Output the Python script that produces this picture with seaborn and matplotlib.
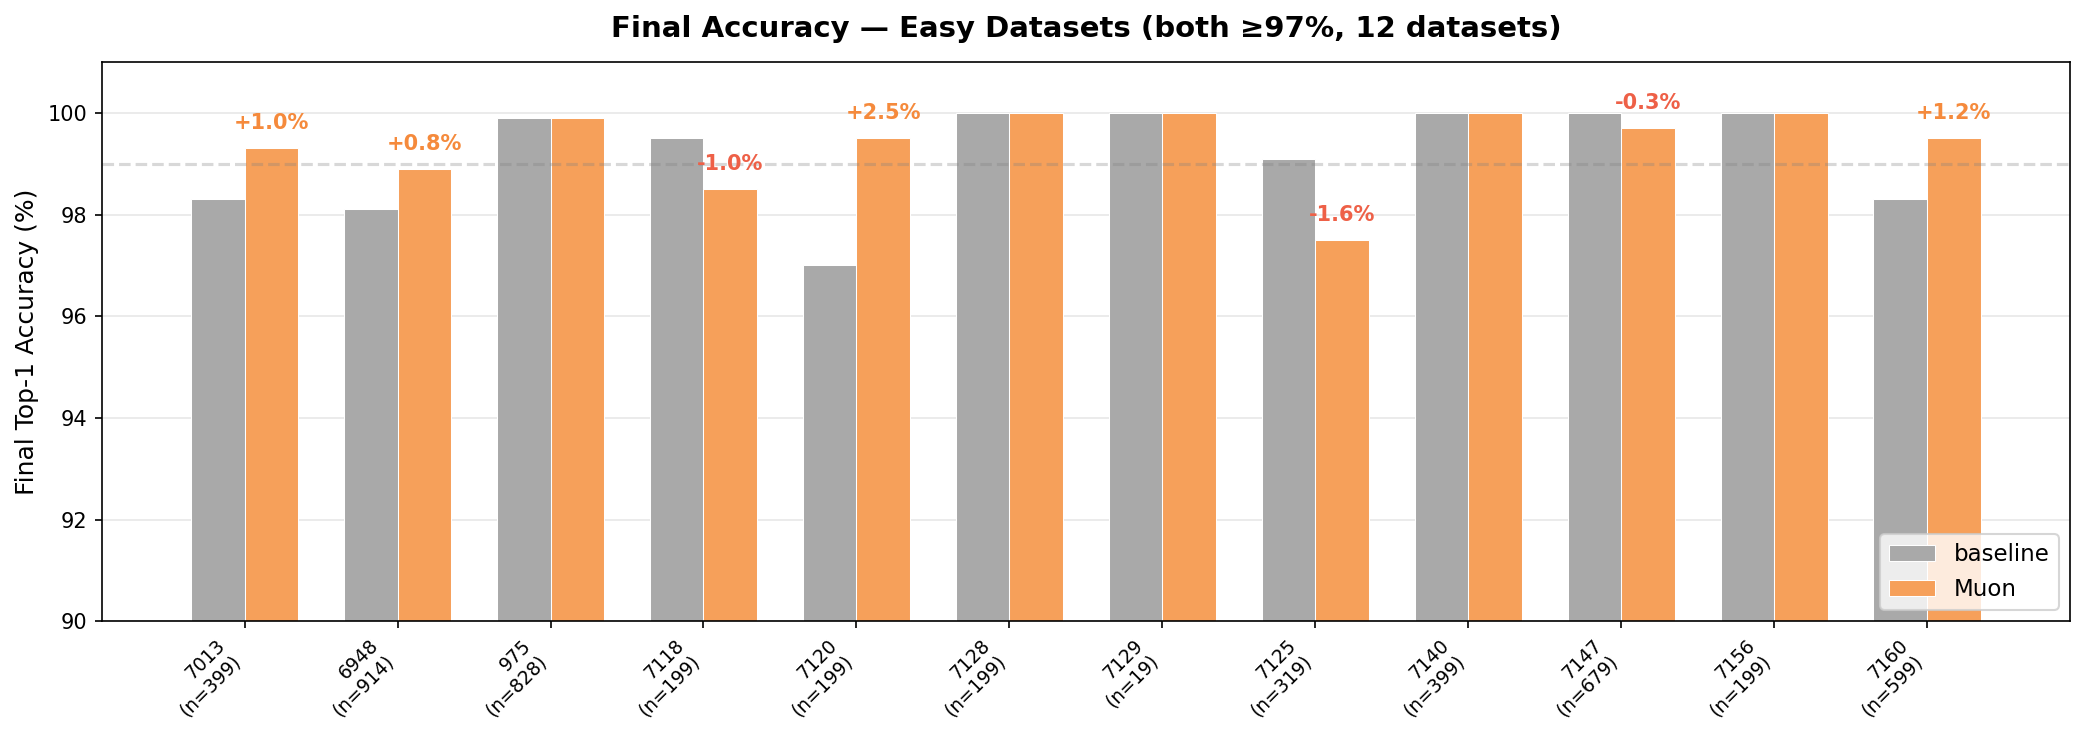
import matplotlib
matplotlib.use("Agg")
import matplotlib.pyplot as plt
import seaborn as sns
import pandas as pd

datasets = ["7013", "6948", "975", "7118", "7120", "7128", "7129", "7125", "7140", "7147", "7156", "7160"]
n_samples = [399, 914, 828, 199, 199, 199, 19, 319, 399, 679, 199, 599]
baseline = [98.3, 98.1, 99.9, 99.5, 97.0, 100.0, 100.0, 99.1, 100.0, 100.0, 100.0, 98.3]
muon = [99.3, 98.9, 99.9, 98.5, 99.5, 100.0, 100.0, 97.5, 100.0, 99.7, 100.0, 99.5]

labels = [f"{d}\n(n={n})" for d, n in zip(datasets, n_samples)]
df = pd.DataFrame({
    "label": labels * 2,
    "acc": baseline + muon,
    "opt": ["baseline"] * len(labels) + ["Muon"] * len(labels),
})

c_base = "#A9A9A9"
c_muon = "#F6A05A"
c_pos = "#F58A3C"
c_neg = "#EE6047"

fig, ax = plt.subplots(figsize=(14, 5), dpi=150)
sns.barplot(data=df, x="label", y="acc", hue="opt", order=labels,
            hue_order=["baseline", "Muon"], palette=[c_base, c_muon],
            width=0.7, gap=0, edgecolor="white", linewidth=0.5,
            saturation=1, ax=ax, legend=True)

ax.axhline(99, color="gray", linestyle="--", alpha=0.3, linewidth=1.5)

for i, (b, m) in enumerate(zip(baseline, muon)):
    d = m - b
    if abs(d) >= 0.05:
        ax.text(i + 0.175, m + 0.3, f"{d:+.1f}%", ha="center", va="bottom",
                fontsize=10, fontweight="bold", color=c_pos if d > 0 else c_neg)

ax.set_ylim(90, 101)
ax.set_yticks([90, 92, 94, 96, 98, 100])
ax.set_xlim(-0.935, 11.935)
ax.grid(axis="y", alpha=0.3)
ax.set_axisbelow(True)
ax.set_xlabel("")
ax.set_ylabel("Final Top-1 Accuracy (%)", fontsize=12)
ax.set_title("Final Accuracy — Easy Datasets (both ≥97%, 12 datasets)",
             fontsize=14, fontweight="bold", pad=12)
plt.setp(ax.get_xticklabels(), rotation=45, ha="right", fontsize=9)
ax.tick_params(axis="y", labelsize=10)
ax.legend(loc="lower right", fontsize=11)

fig.tight_layout()
fig.savefig("out.png", dpi=150, bbox_inches="tight")
